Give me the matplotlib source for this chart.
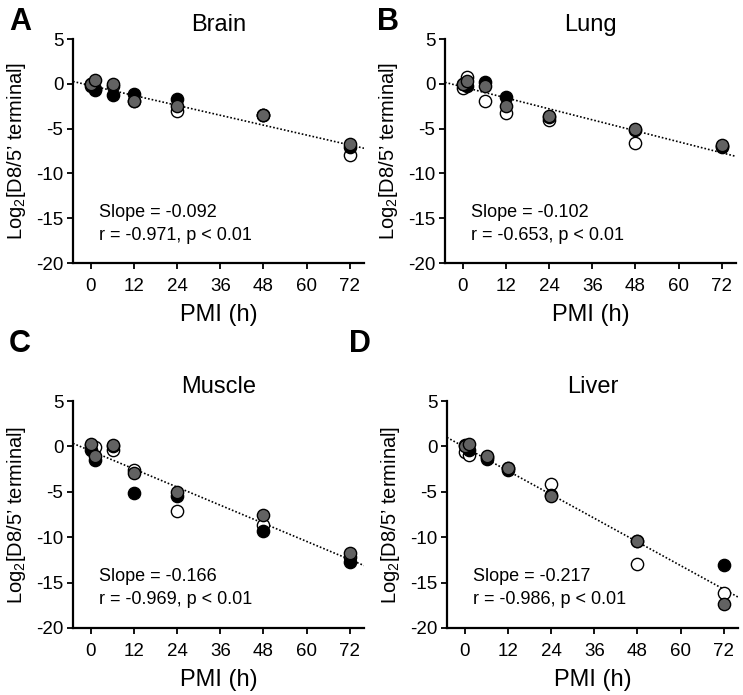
import matplotlib
matplotlib.use("Agg")
import matplotlib.pyplot as plt
import numpy as np

plt.rcParams.update(
    {
        "font.family": ["Liberation Sans", "DejaVu Sans"],
        "mathtext.fontset": "custom",
        "mathtext.rm": "Liberation Sans",
        "mathtext.it": "Liberation Sans:italic",
        "axes.linewidth": 1.6,
        "axes.unicode_minus": False,
    }
)

# PMI time points (h)
pmi = [0, 1, 6, 12, 24, 48, 72]

# Log2[D8/5' terminal] per tissue: open, black, grey series
brain_white = [0.0, -0.6, -0.3, -1.9, -3.0, -3.5, -7.9]
brain_black = [-0.3, -0.7, -1.2, -1.1, -1.7, -3.5, -7.0]
brain_grey = [0.0, 0.4, 0.0, -1.9, -2.5, -3.5, -6.7]

lung_white = [-0.5, 0.75, -1.9, -3.3, -4.0, -6.6, -6.9]
lung_black = [0.0, -0.2, 0.2, -1.5, -3.7, -5.2, -7.0]
lung_grey = [0.0, 0.26, -0.3, -2.5, -3.6, -5.1, -6.8]

muscle_white = [0.1, -0.1, -0.4, -2.6, -7.1, -8.7, -12.2]
muscle_black = [-0.4, -1.5, 0.0, -5.1, -5.5, -9.3, -12.7]
muscle_grey = [0.3, -1.1, 0.2, -2.9, -5.0, -7.6, -11.7]

liver_white = [-0.6, -1.0, -1.2, -2.4, -4.1, -13.0, -16.2]
liver_black = [0.2, -0.4, -1.35, -2.6, -5.3, -10.4, -13.1]
liver_grey = [0.0, 0.3, -1.1, -2.35, -5.5, -10.4, -17.4]

titles = ["Brain", "Lung", "Muscle", "Liver"]
letters = ["A", "B", "C", "D"]
slopes = [-0.092, -0.102, -0.166, -0.217]
intercepts = [-0.2, -0.35, -0.5, -0.1]
r_values = [-0.971, -0.653, -0.969, -0.986]

series = [
    (brain_white, brain_black, brain_grey),
    (lung_white, lung_black, lung_grey),
    (muscle_white, muscle_black, muscle_grey),
    (liver_white, liver_black, liver_grey),
]

FILLS = ["white", "black", "#626262"]

W, H = 743, 695
fig = plt.figure(figsize=(W / 100, H / 100), dpi=100)

# axes boxes in pixels: left, top, width, height
boxes = [(73, 39, 291, 224), (445, 39, 291, 224), (73, 401, 291, 227), (447, 401, 291, 227)]
letter_pos = [(20, 22), (388, 22), (20, 344), (360, 344)]

for i, (left, top, w, h) in enumerate(boxes):
    ax = fig.add_axes([left / W, 1 - (top + h) / H, w / W, h / H])
    for vals, fc in zip(series[i], FILLS):
        ax.scatter(pmi, vals, s=78, facecolor=fc, edgecolor="black", linewidth=1.0, zorder=3, clip_on=False)
    xs = np.array([-5, 76])
    ax.plot(xs, intercepts[i] + slopes[i] * xs, color="black", linestyle=(0, (1, 1.2)), linewidth=1.2, zorder=2)

    ax.set_xlim(-5, 76)
    ax.set_ylim(-20, 5)
    ax.set_xticks(range(0, 73, 12))
    ax.set_yticks(range(-20, 6, 5))
    ax.spines["top"].set_visible(False)
    ax.spines["right"].set_visible(False)
    ax.tick_params(axis="both", direction="out", length=4, width=1.3, labelsize=13.5)
    ax.tick_params(axis="x", pad=7)
    ax.tick_params(axis="y", pad=3)
    ax.set_xlabel("PMI (h)", fontsize=17, labelpad=6)
    ax.set_ylabel("Log$_2$[D8/5\u2019 terminal]", fontsize=14.5, labelpad=6)
    ax.set_title(titles[i], fontsize=17, pad=6)

    ax.text(0.09, 0.225, f"Slope = {slopes[i]:.3f}", transform=ax.transAxes, fontsize=13, ha="left", va="center")
    ax.text(0.09, 0.125, f"r = {r_values[i]:.3f}, p < 0.01", transform=ax.transAxes, fontsize=13, ha="left", va="center")

    lx, ly = letter_pos[i]
    fig.text(lx / W, 1 - ly / H, letters[i], fontsize=22, fontweight="bold", ha="center", va="center")

fig.savefig("out.png", dpi=100, facecolor="white")
